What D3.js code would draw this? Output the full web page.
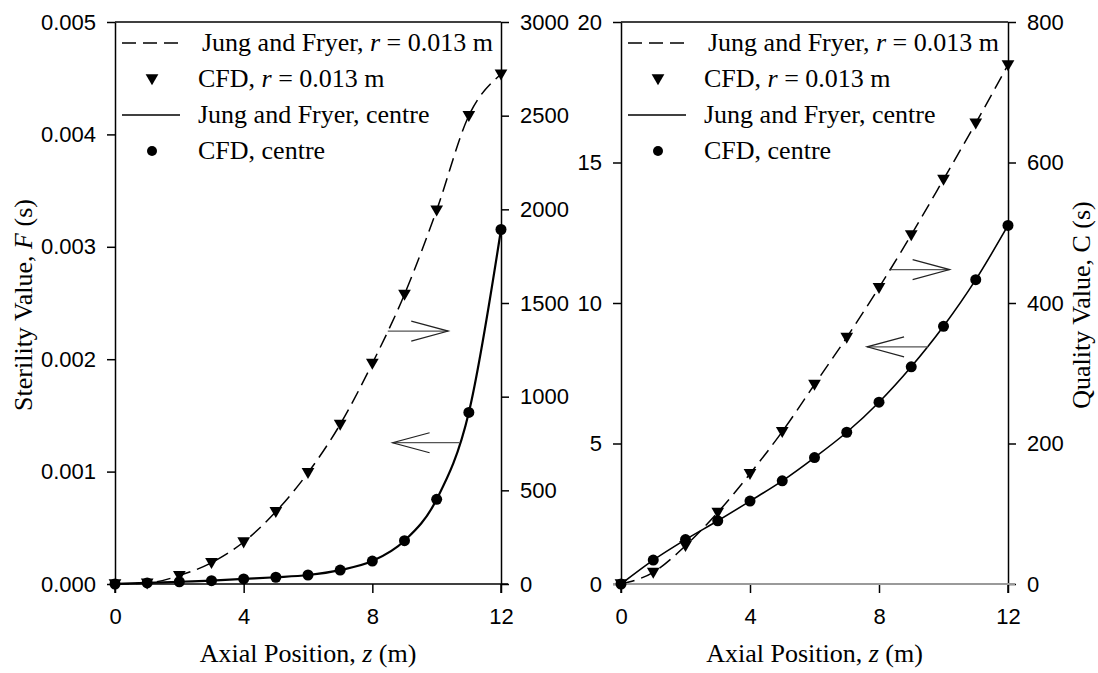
<!DOCTYPE html>
<html>
<head>
<meta charset="utf-8">
<script src="https://cdn.jsdelivr.net/npm/d3@7"></script>
<style>
  body { margin: 0; background: #fff; }
  .tick text { font-family: "Liberation Sans", Arial, sans-serif; font-size: 22px; fill: #000; }
  .serif { font-family: "Liberation Serif", "Times New Roman", serif; font-size: 26px; fill: #000; }
</style>
</head>
<body>
<div class="mainContainer"></div>
<script>
// axial positions (m)
var zPos = [0, 1, 2, 3, 4, 5, 6, 7, 8, 9, 10, 11, 12];

// left panel: sterility value F (s)
var fCentreCfd = [0, 0.00001, 0.00002, 0.00003, 0.000045, 0.00006, 0.00008, 0.000124, 0.000204, 0.000385, 0.000753, 0.001526, 0.003154];
var fCentreModel = [0, 0.00001, 0.00002, 0.00003, 0.000045, 0.00006, 0.00008, 0.000124, 0.000204, 0.000385, 0.000753, 0.001526, 0.003154];
var fRadiusCfd = [0, 5, 45, 114, 224, 386, 594, 852, 1178, 1546, 1996, 2500, 2721];
var fRadiusModel = [0, 5, 45, 114, 224, 386, 594, 852, 1178, 1546, 1996, 2500, 2721];

// right panel: quality value C (s)
var cCentreCfd = [0, 0.85, 1.58, 2.25, 2.95, 3.67, 4.50, 5.40, 6.47, 7.73, 9.17, 10.83, 12.76];
var cCentreModel = [0, 0.85, 1.58, 2.25, 2.95, 3.67, 4.50, 5.40, 6.47, 7.73, 9.17, 10.83, 12.76];
var cRadiusCfd = [0, 16.6, 54.5, 102, 157, 217, 284, 351, 422, 497, 576, 656, 739];
var cRadiusModel = [0, 16.6, 54.5, 102, 157, 217, 284, 351, 422, 497, 576, 656, 739];

// ticks
var xTicks = [0, 4, 8, 12];
var fTicks = [0, 0.001, 0.002, 0.003, 0.004, 0.005];
var fRightTicks = [0, 500, 1000, 1500, 2000, 2500, 3000];
var cTicks = [0, 5, 10, 15, 20];
var cRightTicks = [0, 200, 400, 600, 800];

// arrows [zFrom, zTo, value on left axis]
var fArrows = [[8.48, 10.36, 0.00225], [10.71, 8.63, 0.001257]];
var cArrows = [[8.36, 10.19, 11.19], [9.52, 7.63, 8.44]];

var legendLabels = [
  ['Jung and Fryer, ', 'r', ' = 0.013 m'],
  ['CFD, ', 'r', ' = 0.013 m'],
  ['Jung and Fryer, centre'],
  ['CFD, centre']
];

var W = 1098, H = 673, plotTop = 22, plotBottom = 584;

var svg = d3.select('.mainContainer').append('svg').attr('width', W).attr('height', H);

function drawPanel(p) {
  var x = d3.scaleLinear().domain([0, 12]).range([p.x0, p.x1]);
  var yL = d3.scaleLinear().domain(p.leftDomain).range([plotBottom, plotTop]);
  var yR = d3.scaleLinear().domain(p.rightDomain).range([plotBottom, plotTop]);
  var g = svg.append('g');

  // frame top
  g.append('line').attr('x1', p.x0).attr('x2', p.x1).attr('y1', plotTop).attr('y2', plotTop)
    .style('stroke', '#000').style('stroke-width', 1.5);

  var ax = g.append('g').attr('transform', 'translate(0,' + plotBottom + ')')
    .call(d3.axisBottom(x).tickValues(xTicks).tickSize(9).tickSizeOuter(0).tickPadding(15));
  ax.select('.domain').remove();

  var al = g.append('g').attr('transform', 'translate(' + p.x0 + ',0)')
    .call(d3.axisLeft(yL).tickValues(p.leftTicks).tickFormat(p.leftFormat).tickSize(8).tickSizeOuter(0).tickPadding(11));
  var ar = g.append('g').attr('transform', 'translate(' + p.x1 + ',0)')
    .call(d3.axisRight(yR).tickValues(p.rightTicks).tickFormat(d3.format('d')).tickSize(8).tickSizeOuter(0).tickPadding(11));
  [ax, al, ar].forEach(function(a) {
    a.selectAll('line').style('stroke', '#000').style('stroke-width', 1.5);
    a.selectAll('.domain').style('stroke', '#000').style('stroke-width', 1.5);
  });
  // left and right axes reach down to x tick length
  g.append('line').attr('x1', p.x0).attr('x2', p.x0).attr('y1', plotBottom).attr('y2', plotBottom + 9).style('stroke', '#000').style('stroke-width', 1.5);
  g.append('line').attr('x1', p.x1).attr('x2', p.x1).attr('y1', plotBottom).attr('y2', plotBottom + 9).style('stroke', '#000').style('stroke-width', 1.5);

  // model lines
  var lineL = d3.line().x(function(d, i) { return x(zPos[i]); }).y(function(d) { return yL(d); }).curve(d3.curveMonotoneX);
  var lineR = d3.line().x(function(d, i) { return x(zPos[i]); }).y(function(d) { return yR(d); }).curve(d3.curveMonotoneX);
  g.append('path').attr('d', lineR(p.radiusModel)).style('fill', 'none').style('stroke', '#000')
    .style('stroke-width', 1.5).style('stroke-dasharray', '14,7');
  g.append('path').attr('d', lineL(p.centreModel)).style('fill', 'none').style('stroke', '#000')
    .style('stroke-width', p.solidWidth);

  // bottom axis line (drawn after the curves, as in the reference)
  g.append('line').attr('x1', p.x0 - (p.greyBase ? 8 : 0)).attr('x2', p.x1 + 7).attr('y1', plotBottom).attr('y2', plotBottom)
    .style('stroke', p.greyBase ? '#9a9a9a' : '#000').style('stroke-width', p.greyBase ? 2 : 1.5);

  // CFD markers
  var tri = d3.symbol().type(d3.symbolTriangle).size(70);
  g.selectAll('.tri').data(p.radiusCfd).enter().append('path')
    .attr('d', tri)
    .attr('transform', function(d, i) { return 'translate(' + x(zPos[i]) + ',' + (yR(d) - 1) + ') rotate(180)'; })
    .style('fill', '#000');
  g.selectAll('.dot').data(p.centreCfd).enter().append('circle')
    .attr('cx', function(d, i) { return x(zPos[i]); })
    .attr('cy', function(d) { return yL(d); })
    .attr('r', 5.5).style('fill', '#000');

  // arrows
  p.arrows.forEach(function(a) {
    var xa = x(a[0]), xb = x(a[1]), yy = yL(a[2]);
    var dir = xb > xa ? -1 : 1;
    g.append('line').attr('x1', xa).attr('x2', xb).attr('y1', yy).attr('y2', yy)
      .style('stroke', '#555').style('stroke-width', 1.2);
    g.append('path').attr('d', 'M' + (xb + dir * 37) + ',' + (yy - 10) + 'L' + xb + ',' + yy + 'L' + (xb + dir * 37) + ',' + (yy + 10))
      .style('fill', 'none').style('stroke', '#222').style('stroke-width', 1.2);
  });

  // legend
  var lg = g.append('g');
  legendLabels.forEach(function(lab, i) {
    var by = plotTop + 29 + i * 36, cy = by - 8;
    if (i === 0 || i === 2) {
      var ln = lg.append('line').attr('x1', p.x0 + 7).attr('x2', p.x0 + 65).attr('y1', cy).attr('y2', cy)
        .style('stroke', '#000').style('stroke-width', 1.5);
      if (i === 0) ln.style('stroke-dasharray', '14,7');
    } else if (i === 1) {
      lg.append('path').attr('d', tri).attr('transform', 'translate(' + (p.x0 + 37) + ',' + (cy - 1) + ') rotate(180)').style('fill', '#000');
    } else {
      lg.append('circle').attr('cx', p.x0 + 37).attr('cy', cy).attr('r', 5).style('fill', '#000');
    }
    var t = lg.append('text').attr('class', 'serif').attr('x', p.x0 + (i === 0 ? 87 : 83)).attr('y', by);
    lab.forEach(function(s, k) {
      var ts = t.append('tspan').text(s);
      if (k === 1) ts.style('font-style', 'italic');
    });
  });

  // axis titles
  var xt = g.append('text').attr('class', 'serif').attr('x', (p.x0 + p.x1) / 2).attr('y', 662).attr('text-anchor', 'middle');
  xt.append('tspan').text('Axial Position, ');
  xt.append('tspan').text('z').style('font-style', 'italic');
  xt.append('tspan').text(' (m)');

  var yt = g.append('text').attr('class', 'serif').attr('text-anchor', 'middle')
    .attr('transform', 'translate(' + p.titleX + ',305) rotate(-90)');
  yt.append('tspan').text(p.title[0]);
  yt.append('tspan').text(p.title[1]).style('font-style', p.titleItalic ? 'italic' : 'normal');
  yt.append('tspan').text(p.title[2]);
}

drawPanel({
  x0: 115, x1: 501,
  leftDomain: [0, 0.005], rightDomain: [0, 3000],
  leftTicks: fTicks, rightTicks: fRightTicks, leftFormat: d3.format('.3f'),
  centreCfd: fCentreCfd, centreModel: fCentreModel, radiusCfd: fRadiusCfd, radiusModel: fRadiusModel,
  arrows: fArrows, solidWidth: 2.2, greyBase: false,
  title: ['Sterility Value, ', 'F', ' (s)'], titleItalic: true, titleX: 32
});

drawPanel({
  x0: 621, x1: 1008,
  leftDomain: [0, 20], rightDomain: [0, 800],
  leftTicks: cTicks, rightTicks: cRightTicks, leftFormat: d3.format('d'),
  centreCfd: cCentreCfd, centreModel: cCentreModel, radiusCfd: cRadiusCfd, radiusModel: cRadiusModel,
  arrows: cArrows, solidWidth: 1.6, greyBase: true,
  title: ['Quality Value, ', 'C', ' (s)'], titleItalic: false, titleX: 1090
});
</script>
</body>
</html>
